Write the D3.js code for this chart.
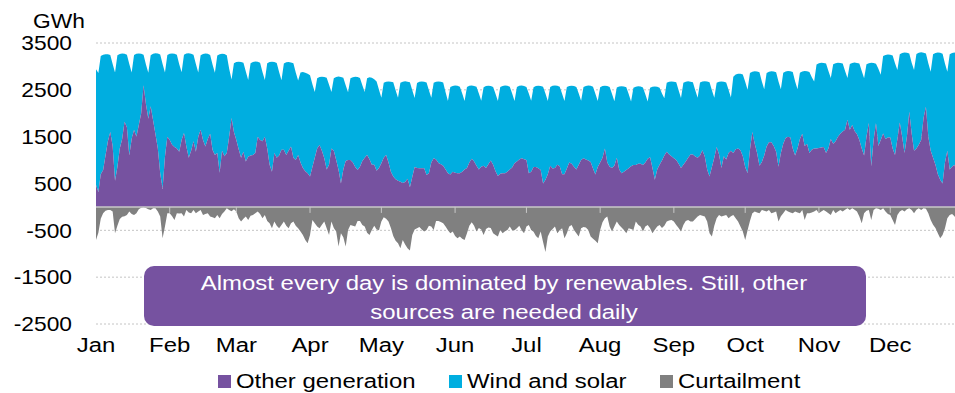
<!DOCTYPE html>
<html><head><meta charset="utf-8">
<script src="https://cdn.jsdelivr.net/npm/d3@7"></script>
<style>
body{margin:0;background:#fff}
svg{display:block}
text{font-family:"Liberation Sans",Arial,Helvetica,sans-serif;fill:#000}
</style>
</head><body>
<svg id="chart" width="955" height="393"></svg>
<script>
const year = 2022;
const unitLabel = "GWh";
const yTicks = [3500, 2500, 1500, 500, -500, -1500, -2500];
const seriesNames = ["Other generation", "Wind and solar", "Curtailment"];
const annotationLines = ["Almost every day is dominated by renewables. Still, other", "sources are needed daily"];

// Daily other generation (GWh)
const otherGeneration = [
470,320,700,790,1100,1400,1600,1300,560,850,
1250,1450,1820,1700,1100,1450,1650,1500,1750,2000,
2600,2200,1880,2150,1850,1550,1250,720,380,1070,
1500,1430,1330,1280,1250,1180,1430,1580,1290,1050,
1200,1400,1180,1500,1650,1430,1290,1450,1560,1220,
1110,1150,730,1200,1080,1150,1500,1900,1600,1430,
1230,1050,1180,970,1070,1100,1110,1150,1500,1430,
1400,1500,1250,900,750,1150,1050,1100,1220,1220,
1110,1200,1290,1050,1000,1110,950,830,760,720,
650,850,1050,1250,1320,1200,1040,800,900,1250,
1200,1000,790,500,800,980,1000,1000,950,850,
790,860,980,1050,1110,1020,900,900,770,830,
930,1050,1110,950,750,650,590,560,540,510,
530,600,420,640,850,830,826,826,826,680,
720,950,1040,1010,940,910,880,800,720,690,
750,730,720,720,750,800,830,950,1030,970,
880,800,860,880,830,910,990,900,760,660,
710,720,720,750,800,840,930,970,1010,1040,
1020,1000,720,750,850,850,826,790,500,580,
700,880,820,830,900,870,700,700,820,950,
920,860,800,900,1000,1040,1010,990,960,820,
690,850,950,1050,1250,950,860,830,880,1050,
800,720,750,790,826,870,897,897,920,920,
897,950,1030,1060,830,580,800,900,990,1100,
1180,1120,1080,1040,1000,920,830,900,970,1050,
1120,1120,1074,1050,1100,1210,1074,800,650,850,
1050,1280,1120,830,1080,1010,1150,1200,1150,1230,
1250,1210,1080,850,720,1220,1600,1350,1150,880,
960,1100,1290,1380,1380,1300,1180,860,1150,1350,
1470,1500,1480,1250,1100,1250,1450,1560,1300,1350,
1150,1220,1250,1250,1260,1270,1280,1150,1250,1450,
1350,1400,1500,1560,1610,1650,1860,1650,1750,1620,
1550,1430,1250,1100,1500,1790,870,1430,1790,1300,
1430,1570,1450,1480,1480,1250,1110,1450,1800,1500,
1150,1500,2030,1570,1200,1250,1330,1430,1900,2140,
1500,1200,1050,900,700,580,500,950,1200,800,
860,900,700,650,800
];

// Daily total supply = top of the "Wind and solar" layer (GWh), weeks Sat..Fri
const totalSupply = [
2940,2860,3220,3250,3260,3260,3245,
3050,2870,3240,3265,3275,3270,3250,
3050,2870,3245,3270,3275,3270,3250,
3040,2865,3240,3270,3280,3275,3255,
3050,2870,3245,3270,3275,3270,3250,
3045,2875,3250,3275,3280,3270,3250,
3050,2870,3240,3265,3275,3270,3245,
3040,2865,3235,3260,3270,3265,3240,
2950,2720,3070,3095,3100,3095,3080,
2890,2710,3070,3095,3105,3100,3080,
2880,2710,3065,3095,3100,3095,3075,
2880,2705,3060,3090,3095,3085,3070,
2870,2700,2870,2880,2865,2845,2810,
2620,2456,2745,2775,2780,2775,2760,
2610,2456,2750,2775,2785,2775,2760,
2600,2450,2745,2770,2780,2775,2755,
2600,2456,2750,2770,2760,2725,2680,
2500,2330,2650,2675,2680,2675,2660,
2490,2330,2650,2675,2685,2675,2660,
2490,2325,2645,2670,2680,2675,2655,
2490,2330,2650,2675,2680,2670,2655,
2450,2263,2560,2580,2590,2585,2565,
2420,2260,2560,2585,2590,2580,2565,
2420,2265,2555,2580,2585,2580,2560,
2415,2260,2560,2580,2590,2585,2565,
2420,2263,2560,2585,2590,2580,2560,
2420,2265,2555,2580,2585,2580,2565,
2420,2260,2560,2585,2590,2585,2565,
2415,2262,2560,2580,2585,2580,2560,
2420,2265,2560,2580,2590,2585,2565,
2415,2260,2555,2580,2585,2580,2560,
2410,2255,2550,2570,2575,2570,2555,
2410,2250,2545,2565,2575,2570,2550,
2405,2250,2545,2565,2570,2565,2545,
2420,2320,2650,2675,2680,2675,2660,
2490,2325,2650,2675,2685,2675,2660,
2490,2330,2655,2680,2685,2680,2660,
2490,2330,2650,2675,2680,2675,2655,
2500,2335,2780,2830,2845,2845,2830,
2670,2500,2860,2885,2895,2890,2875,
2680,2510,2860,2885,2895,2890,2875,
2680,2510,2865,2890,2900,2895,2880,
2680,2515,2865,2890,2900,2895,2880,
2770,2676,3040,3070,3080,3075,3060,
2900,2754,3045,3070,3080,3075,3060,
2900,2755,3050,3075,3085,3075,3060,
2900,2750,3045,3070,3080,3075,3055,
2950,2820,3220,3245,3255,3250,3235,
3070,2925,3260,3285,3295,3290,3275,
3080,2925,3265,3290,3300,3290,3275,
3070,2885,3260,3285,3295,3290,3270,
3060,2885,3260,3285,3295,3290,3270,
3060
];

// Daily curtailment (GWh, negative)
const curtailment = [
-705,-550,-250,-135,-80,-64,-64,-100,-560,-400,
-260,-210,-200,-170,-100,-150,-171,-135,-50,-20,
-5,-25,-50,-64,-28,-28,-100,-207,-669,-420,
-135,-135,-200,-278,-135,-140,-135,-207,-64,-120,
-135,-64,-135,-100,-64,-171,-150,-135,-207,-220,
-242,-171,-242,-150,-100,-28,-64,-90,-50,-100,
-242,-313,-250,-207,-278,-190,-171,-135,-100,-150,
-242,-171,-300,-349,-455,-313,-400,-455,-384,-313,
-400,-455,-349,-313,-400,-455,-527,-600,-705,-776,
-598,-278,-350,-420,-455,-380,-313,-455,-600,-313,
-450,-527,-847,-562,-650,-847,-491,-384,-400,-420,
-300,-300,-384,-420,-550,-598,-491,-400,-480,-500,
-313,-220,-250,-313,-450,-620,-720,-776,-883,-705,
-800,-883,-930,-600,-480,-455,-430,-480,-527,-491,
-400,-420,-491,-300,-300,-320,-349,-420,-500,-562,
-527,-620,-669,-634,-680,-705,-562,-400,-330,-400,
-527,-450,-480,-598,-470,-440,-450,-562,-600,-634,
-491,-562,-520,-491,-420,-500,-500,-455,-400,-500,
-562,-420,-384,-491,-530,-620,-669,-527,-750,-960,
-634,-527,-470,-420,-562,-500,-455,-669,-560,-420,
-384,-491,-560,-634,-455,-430,-440,-491,-634,-680,
-720,-776,-491,-330,-240,-207,-420,-527,-420,-313,
-384,-440,-491,-562,-455,-470,-491,-313,-380,-420,
-527,-420,-384,-455,-562,-490,-420,-384,-450,-400,
-313,-290,-278,-313,-384,-450,-527,-384,-300,-278,
-313,-313,-260,-207,-171,-190,-207,-313,-562,-634,
-400,-242,-171,-207,-190,-171,-242,-200,-171,-242,
-313,-420,-527,-705,-500,-300,-135,-100,-120,-135,
-64,-80,-100,-64,-135,-120,-100,-313,-200,-135,
-64,-100,-120,-135,-100,-120,-135,-64,-278,-135,
-135,-120,-100,-64,-135,-100,-64,-100,-135,-171,
-64,-135,-100,-64,-100,-60,-28,-64,-28,-60,
-100,-207,-349,-135,-80,-64,-278,-64,-28,-40,
-64,-28,-100,-150,-171,-278,-384,-171,-100,-64,
-100,-50,-28,-64,-135,-60,-28,-64,-28,-40,
-135,-278,-380,-450,-562,-669,-600,-455,-242,-171,
-150,-200,-300,-350,-250
];

const colors = {other: "#7652A0", wind: "#00AEE0", curt: "#808080"};

const svg = d3.select("#chart");
const plotL = 96, plotR = 955;
const x = d3.scaleTime()
  .domain([new Date(year, 0, 1), new Date(year, 11, 31)])
  .range([96, 961.6]);
const y = d3.scaleLinear().domain([-2500, 3500]).range([324, 43]);
const dates = otherGeneration.map((_, i) => new Date(year, 0, 1 + i));
const SX = 1.14;

function label(g, px, py, txt, size, anchor, fill) {
  return g.append("text")
    .attr("transform", `translate(${px},${py}) scale(${SX},1)`)
    .attr("text-anchor", anchor)
    .style("font-size", size + "px")
    .style("fill", fill || "#000")
    .text(txt);
}

svg.append("defs").append("clipPath").attr("id", "plotclip")
  .append("rect").attr("x", plotL).attr("y", 0).attr("width", plotR - plotL).attr("height", 393);

// gridlines
svg.append("g").selectAll("line").data(yTicks).join("line")
  .attr("x1", plotL).attr("x2", plotR)
  .attr("y1", d => y(d)).attr("y2", d => y(d))
  .attr("stroke", "#c4c4c4").attr("stroke-width", 1).attr("stroke-dasharray", "2,2");

const plot = svg.append("g").attr("clip-path", "url(#plotclip)");
const idx = d3.range(otherGeneration.length);

plot.append("path").datum(idx)
  .attr("fill", colors.wind)
  .attr("d", d3.area().x(i => x(dates[i])).y0(i => y(otherGeneration[i])).y1(i => y(totalSupply[i])));
plot.append("path").datum(idx)
  .attr("fill", colors.other)
  .attr("d", d3.area().x(i => x(dates[i])).y0(y(0)).y1(i => y(otherGeneration[i])));
plot.append("path").datum(idx)
  .attr("fill", colors.curt)
  .attr("d", d3.area().x(i => x(dates[i])).y0(y(0)).y1(i => y(curtailment[i])));

// zero axis with month ticks
const months = d3.timeMonth.range(new Date(year, 0, 1), new Date(year + 1, 0, 1));
const axisG = svg.append("g");
axisG.append("line").attr("x1", plotL).attr("x2", plotR).attr("y1", y(0)).attr("y2", y(0))
  .attr("stroke", "#c8c8c8").attr("stroke-width", 1.5);
axisG.selectAll("line.tk").data(months.slice(1)).join("line").attr("class", "tk")
  .attr("x1", d => x(d)).attr("x2", d => x(d))
  .attr("y1", y(0)).attr("y2", y(0) + 6)
  .attr("stroke", "#c8c8c8").attr("stroke-width", 1);

// y tick labels
const yl = svg.append("g");
yTicks.forEach(v => label(yl, 72, y(v) + 7.2, String(v), 20, "end"));
label(yl, 85, 28, unitLabel, 20, "end");

// month labels
const fmt = d3.timeFormat("%b");
const ml = svg.append("g");
months.forEach(m => label(ml, x(m), 352, fmt(m), 21, "middle"));

// annotation
svg.append("rect").attr("x", 144).attr("y", 266).attr("width", 722).attr("height", 60)
  .attr("rx", 10).attr("ry", 10).attr("fill", colors.other);
const an = svg.append("g");
annotationLines.forEach((t, i) => label(an, 504, 290 + i * 29, t, 21, "middle", "#fff"));

// legend
const legend = [
  {name: seriesNames[0], color: colors.other, x: 218},
  {name: seriesNames[1], color: colors.wind, x: 449},
  {name: seriesNames[2], color: colors.curt, x: 660}
];
const lg = svg.append("g");
legend.forEach(l => {
  lg.append("rect").attr("x", l.x).attr("y", 375).attr("width", 13).attr("height", 13).attr("fill", l.color);
  label(lg, l.x + 18, 388, l.name, 21, "start");
});
</script>
</body></html>
